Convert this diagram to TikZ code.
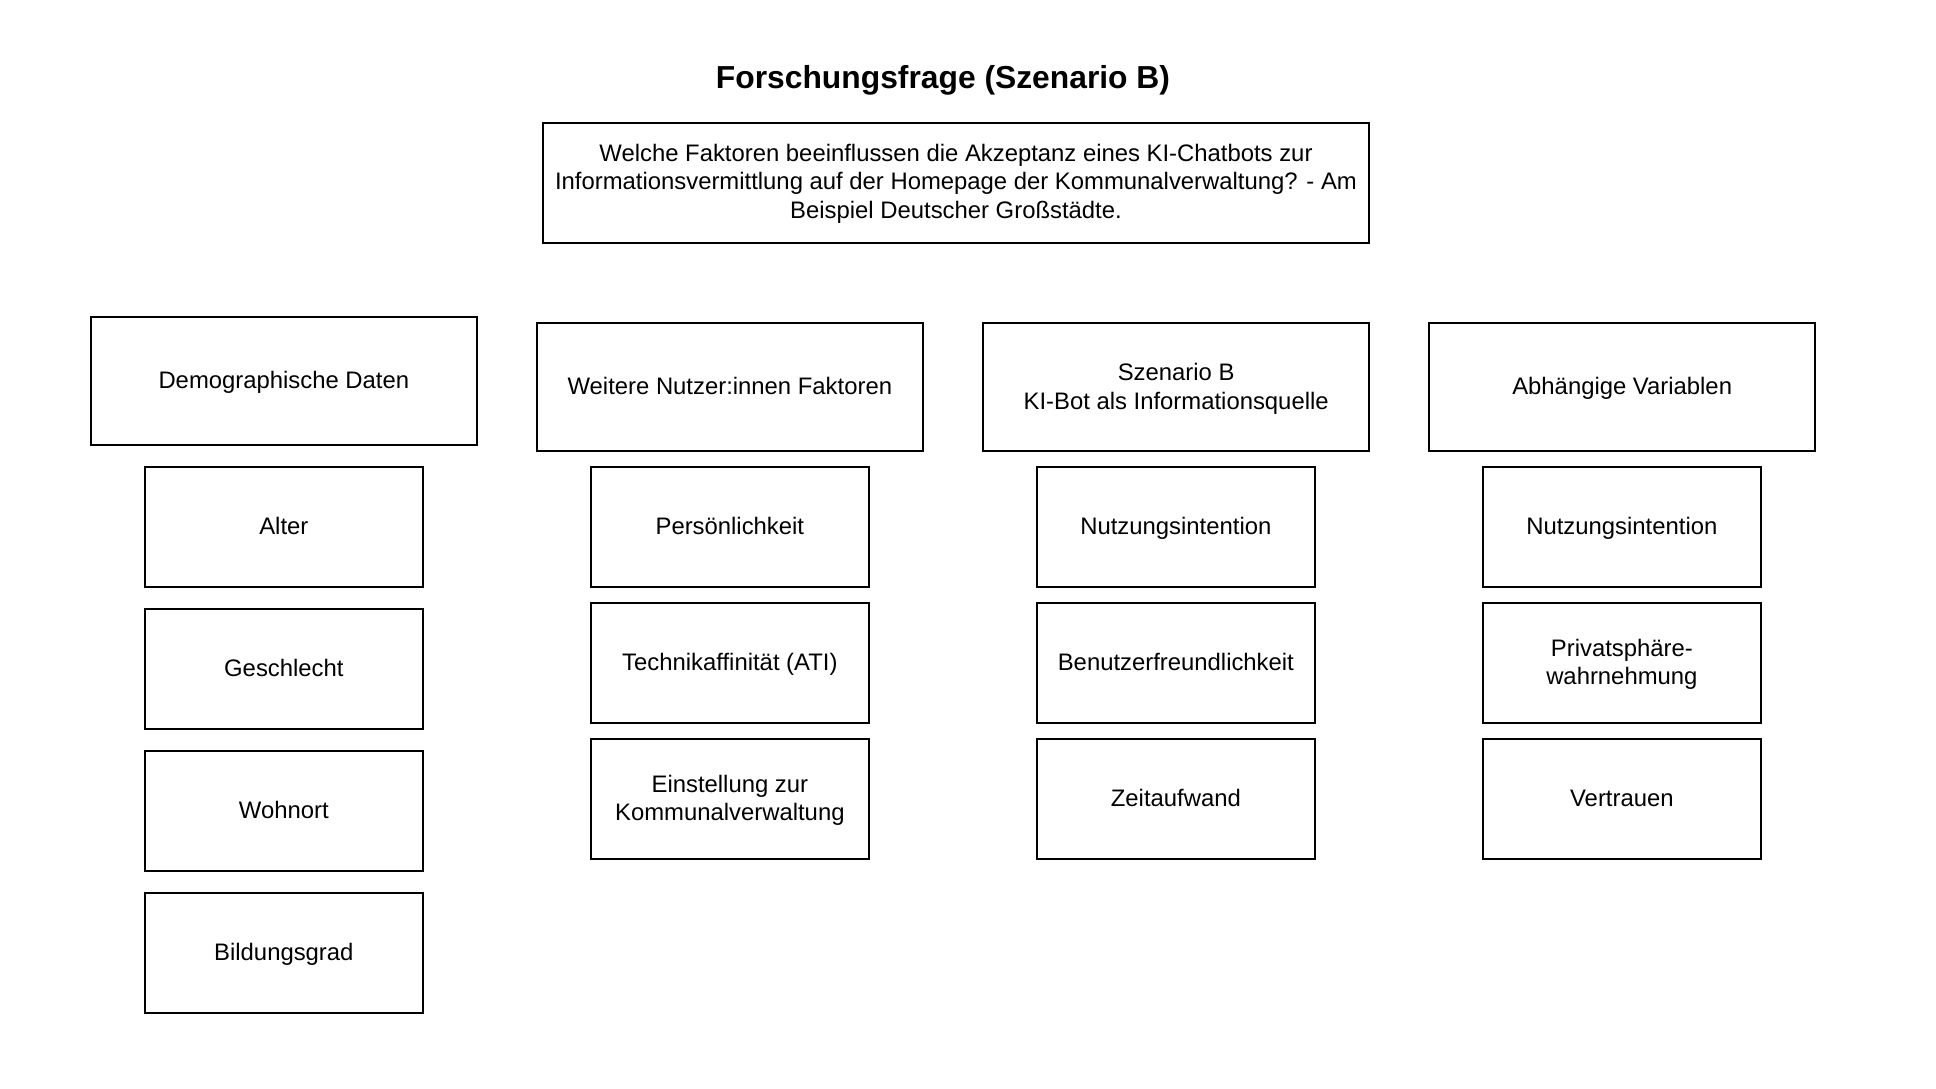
\documentclass[tikz,border=0pt]{standalone}
\usepackage{fontspec}
\setmainfont{Liberation Sans}
\begin{document}
\begin{tikzpicture}[
x=0.5pt,y=-0.5pt,
item/.style={draw,line width=0.9pt},
txt/.style={font=\fontsize{11.93}{14.15}\selectfont,align=center,text height=0.76em,text depth=0pt},
twolines/.style={text height=2.22em},
threelines/.style={text height=3.52em},
]
\useasboundingbox (0,0) rectangle (1936,1088);
\node[font=\bfseries\fontsize{15.9}{19}\selectfont,anchor=base] (titel) at (943,88.3) {Forschungsfrage (Szenario B)};
\path[item]
    (543,123) rectangle +(826,120) node[txt,threelines,pos=0.5] (frage) {Welche Faktoren beeinflussen die Akzeptanz eines KI-Chatbots zur\\Informationsvermittlung auf der Homepage der Kommunalverwaltung? - Am\\Beispiel Deutscher Großstädte.};
% Spaltenköpfe
\path[item]
    (90.7,316.7) rectangle +(386.3,128.3) node[txt,pos=0.5] (demo) {Demographische Daten}
    (536.7,323) rectangle +(386.3,127.7) node[txt,pos=0.5] (nutzer) {Weitere Nutzer:innen Faktoren}
    (983,323) rectangle +(386.3,127.7) node[txt,twolines,pos=0.5] (szenario) {Szenario B\\KI-Bot als Informationsquelle}
    (1429,323) rectangle +(386.3,127.7) node[txt,pos=0.5] (abh) {Abhängige Variablen};
% Demographische Daten
\path[item]
    (144.7,466.7) rectangle +(278.3,120) node[txt,pos=0.5] (alter) {Alter}
    (144.7,608.7) rectangle +(278.3,120) node[txt,pos=0.5] (geschlecht) {Geschlecht}
    (144.7,751.0) rectangle +(278.3,120) node[txt,pos=0.5] (wohnort) {Wohnort}
    (144.7,892.7) rectangle +(278.3,120) node[txt,pos=0.5] (bildung) {Bildungsgrad};
% Weitere Faktoren
\path[item]
    (590.7,466.7) rectangle +(278.3,120) node[txt,pos=0.5] (pers) {Persönlichkeit}
    (590.7,602.7) rectangle +(278.3,120) node[txt,pos=0.5] (ati) {Technikaffinität (ATI)}
    (590.7,738.7) rectangle +(278.3,120) node[txt,twolines,pos=0.5] (einst) {Einstellung zur\\Kommunalverwaltung};
% Szenario B
\path[item]
    (1036.7,466.7) rectangle +(278.3,120) node[txt,pos=0.5] (intentionB) {Nutzungsintention}
    (1036.7,602.7) rectangle +(278.3,120) node[txt,pos=0.5] (freundl) {Benutzerfreundlichkeit}
    (1036.7,738.7) rectangle +(278.3,120) node[txt,pos=0.5] (zeit) {Zeitaufwand};
% Abhaengige Variablen
\path[item]
    (1482.7,466.7) rectangle +(278.3,120) node[txt,pos=0.5] (intentionAV) {Nutzungsintention}
    (1482.7,602.7) rectangle +(278.3,120) node[txt,twolines,pos=0.5] (privat) {Privatsphäre-\\wahrnehmung}
    (1482.7,738.7) rectangle +(278.3,120) node[txt,pos=0.5] (vertrauen) {Vertrauen};
\end{tikzpicture}
\end{document}
